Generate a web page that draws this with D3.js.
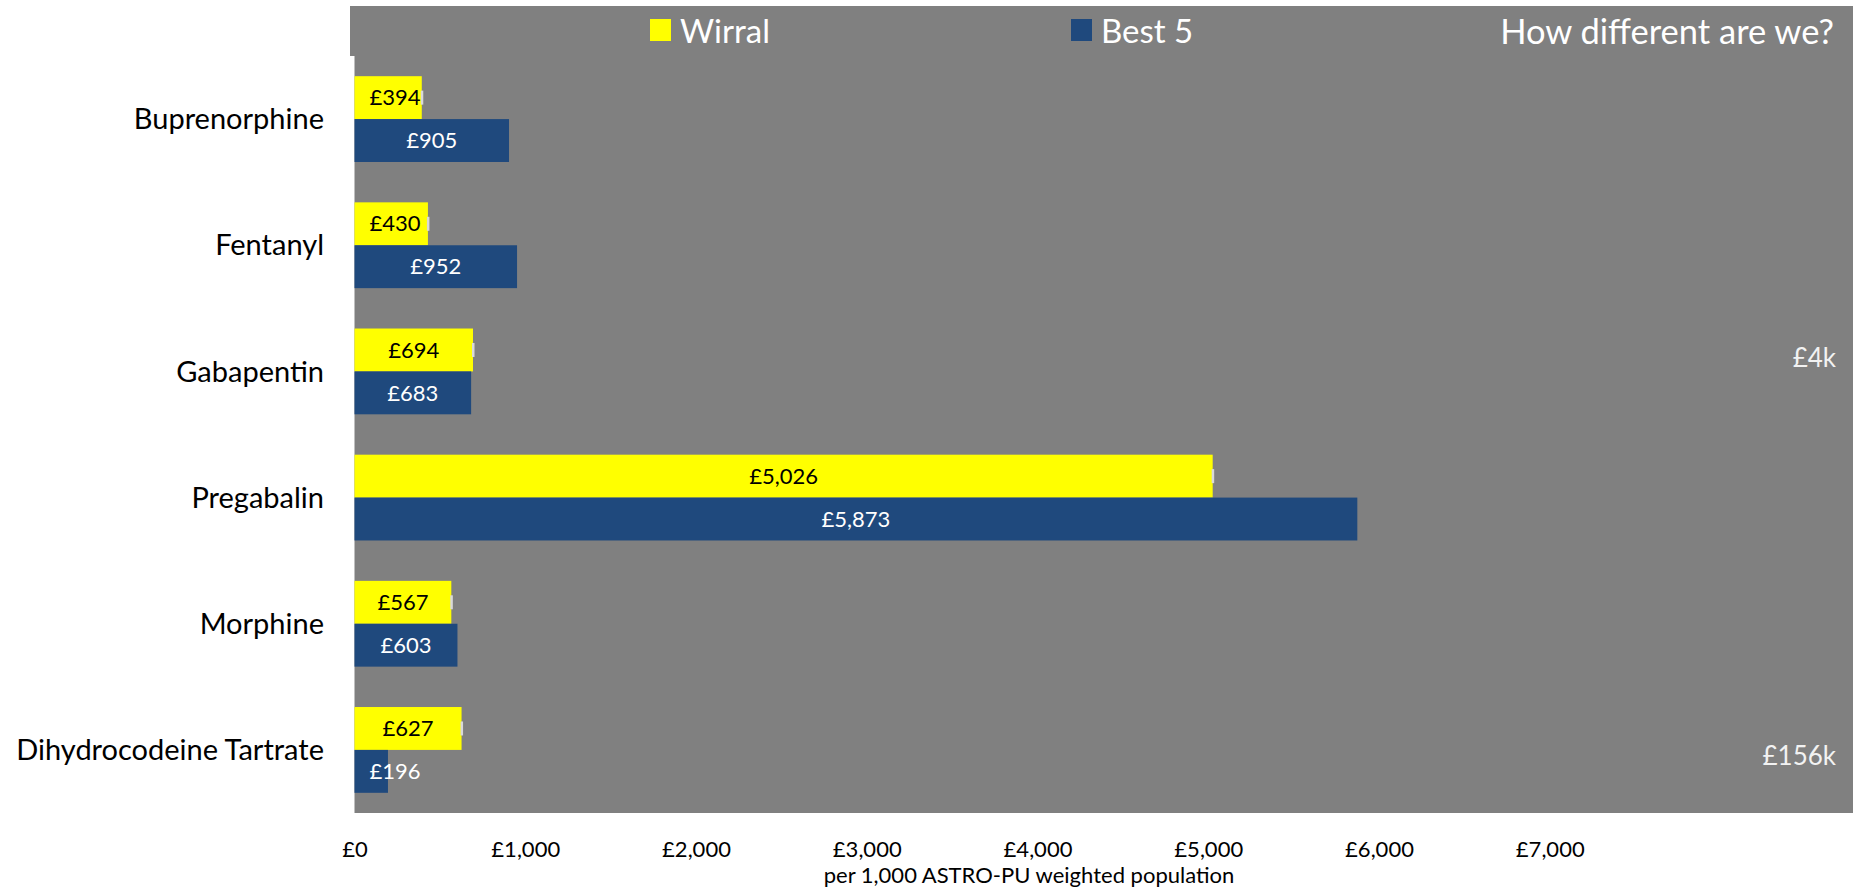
<!DOCTYPE html>
<html>
<head>
<meta charset="utf-8">
<script src="https://cdn.jsdelivr.net/npm/d3@7"></script>
<style>
  html, body { margin: 0; padding: 0; background: #ffffff; }
  svg { display: block; font-family: Lato, "Open Sans", sans-serif; }
</style>
</head>
<body>
<svg id="chart" width="1859" height="890"></svg>
<script>
// ---- data ----
const categories = ["Buprenorphine", "Fentanyl", "Gabapentin", "Pregabalin", "Morphine", "Dihydrocodeine Tartrate"];
const wirral = [394, 430, 694, 5026, 567, 627];
const best5 = [905, 952, 683, 5873, 603, 196];
const diffLabels = ["", "", "£4k", "", "", "£156k"];
const seriesNames = ["Wirral", "Best 5"];
const xTicks = [0, 1000, 2000, 3000, 4000, 5000, 6000, 7000];
const title = "How different are we?";
const xAxisTitle = "per 1,000 ASTRO-PU weighted population";

// ---- layout ----
const W = 1859, H = 890;
const plot = { left: 354.5, right: 1853, top: 56, bottom: 813 };
const colors = { Wirral: "#FFFF00", "Best 5": "#1F497D", bg: "#808080" };

const svg = d3.select("#chart");

// backgrounds
svg.append("rect").attr("x", 350).attr("y", 6).attr("width", plot.right - 350).attr("height", plot.top - 6).attr("fill", colors.bg);
svg.append("rect").attr("x", plot.left).attr("y", plot.top).attr("width", plot.right - plot.left).attr("height", plot.bottom - plot.top).attr("fill", colors.bg);

const x = d3.scaleLinear().domain([0, 1000]).range([plot.left, plot.left + 170.75]);
const y = d3.scaleBand().domain(categories).range([plot.top, plot.bottom]).paddingInner(0.32).paddingOuter(0.16);
const ySub = d3.scaleBand().domain(seriesNames).range([0, y.bandwidth()]);

const fmt = d3.format(",");
const money = v => "£" + fmt(v);

const rows = categories.map((c, i) => ({ cat: c, values: [ { s: "Wirral", v: wirral[i] }, { s: "Best 5", v: best5[i] } ] }));

const groups = svg.selectAll("g.grp").data(rows).join("g")
  .attr("class", "grp")
  .attr("transform", d => `translate(0,${y(d.cat)})`);

groups.selectAll("rect.bar").data(d => d.values).join("rect")
  .attr("class", "bar")
  .attr("x", x(0))
  .attr("y", d => ySub(d.s))
  .attr("width", d => x(d.v) - x(0))
  .attr("height", ySub.bandwidth())
  .attr("fill", d => colors[d.s]);

// small light marks at the end of Wirral bars
groups.append("rect")
  .attr("x", d => x(d.values[0].v) - 1)
  .attr("y", ySub("Wirral") + ySub.bandwidth() / 2 - 7)
  .attr("width", 2.5)
  .attr("height", 14)
  .attr("fill", "#d9d9d9");

// value labels
groups.selectAll("text.val").data(d => d.values).join("text")
  .attr("class", "val")
  .attr("y", d => ySub(d.s) + ySub.bandwidth() / 2)
  .attr("dy", "0.35em")
  .attr("text-anchor", "middle")
  .attr("font-size", 22)
  .attr("fill", d => d.s === "Wirral" ? "#000000" : "#ffffff")
  .text(d => money(d.v))
  .attr("x", function(d) {
    const w = this.getComputedTextLength();
    const mid = (x(0) + x(d.v)) / 2;
    return Math.max(mid, x(0) + 15 + w / 2);
  });

// category labels
svg.selectAll("text.cat").data(categories).join("text")
  .attr("class", "cat")
  .attr("x", 324)
  .attr("y", d => y(d) + y.bandwidth() / 2)
  .attr("dy", "0.35em")
  .attr("text-anchor", "end")
  .attr("font-size", 29)
  .attr("fill", "#000")
  .text(d => d);

// difference labels at right
const diffDy = [0, 0, -14, 0, 0, 6];
svg.selectAll("text.diff").data(categories.map((c, i) => ({ c, t: diffLabels[i], dy: diffDy[i] })).filter(d => d.t)).join("text")
  .attr("class", "diff")
  .attr("x", 1836)
  .attr("y", d => y(d.c) + y.bandwidth() / 2 + d.dy)
  .attr("dy", "0.35em")
  .attr("text-anchor", "end")
  .attr("font-size", 26)
  .attr("fill", "#f2f2f2")
  .text(d => d.t);

// x axis
const axis = d3.axisBottom(x).tickValues(xTicks).tickFormat(money).tickSize(0).tickPadding(0);
const ax = svg.append("g").attr("transform", `translate(0,${plot.bottom})`).call(axis);
ax.select(".domain").remove();
ax.selectAll("text").attr("font-size", 22).attr("font-family", "Lato, sans-serif").attr("fill", "#000").attr("y", 36).attr("dy", "0.35em");

svg.append("text")
  .attr("x", 1029).attr("y", 875).attr("dy", "0.35em")
  .attr("text-anchor", "middle").attr("font-size", 22).attr("fill", "#000")
  .text(xAxisTitle);

// legend
const legendX = [650, 1071];
seriesNames.forEach((s, i) => {
  svg.append("rect").attr("x", legendX[i]).attr("y", 19).attr("width", 21).attr("height", 22).attr("fill", colors[s]);
  svg.append("text").attr("x", legendX[i] + 30).attr("y", 31).attr("dy", "0.35em")
    .attr("font-size", 33).attr("fill", "#fff").text(s);
});

svg.append("text").attr("x", 1834).attr("y", 32).attr("dy", "0.35em")
  .attr("text-anchor", "end").attr("font-size", 34.5).attr("fill", "#fff").text(title);
</script>
</body>
</html>
